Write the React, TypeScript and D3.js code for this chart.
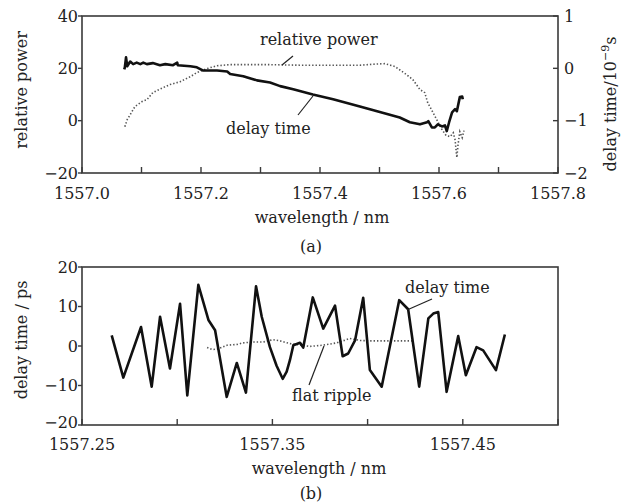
import * as d3 from "d3";
import React from "react";

// (a) delay time, 10^-9 s
const dtWaveA = [1557.071, 1557.072, 1557.074, 1557.076, 1557.081, 1557.086, 1557.092, 1557.098, 1557.103, 1557.109, 1557.119, 1557.131, 1557.140, 1557.153, 1557.160, 1557.161, 1557.182, 1557.193, 1557.203, 1557.227, 1557.244, 1557.249, 1557.271, 1557.294, 1557.316, 1557.333, 1557.355, 1557.388, 1557.422, 1557.467, 1557.496, 1557.534, 1557.551, 1557.568, 1557.580, 1557.582, 1557.588, 1557.593, 1557.598, 1557.605, 1557.610, 1557.613, 1557.617, 1557.622, 1557.627, 1557.630, 1557.635, 1557.639, 1557.640];
const dtValA = [-0.02, 0.02, 0.21, 0.04, 0.13, 0.08, 0.11, 0.08, 0.11, 0.08, 0.10, 0.06, 0.08, 0.06, 0.11, 0.06, 0.04, 0.02, -0.04, -0.04, -0.06, -0.11, -0.15, -0.23, -0.27, -0.34, -0.40, -0.50, -0.59, -0.73, -0.82, -0.94, -1.03, -1.07, -1.03, -1.01, -1.13, -1.13, -1.07, -1.11, -1.09, -1.20, -1.03, -0.84, -0.78, -0.82, -0.55, -0.54, -0.59];

// (a) relative power
const pwWave = [1557.072, 1557.076, 1557.081, 1557.089, 1557.101, 1557.109, 1557.119, 1557.136, 1557.148, 1557.165, 1557.182, 1557.193, 1557.210, 1557.227, 1557.249, 1557.316, 1557.366, 1557.467, 1557.492, 1557.509, 1557.526, 1557.543, 1557.556, 1557.568, 1557.576, 1557.581, 1557.590, 1557.598, 1557.605, 1557.612, 1557.619, 1557.624, 1557.627, 1557.629, 1557.630, 1557.632, 1557.635, 1557.639, 1557.642];
const pwVal = [-2.3, 0.4, 2.3, 5.4, 7.3, 8.0, 10.7, 12.6, 13.8, 14.9, 16.8, 18.4, 19.9, 21.0, 21.4, 21.4, 21.2, 21.2, 21.6, 21.8, 20.7, 18.0, 15.7, 11.9, 10.7, 6.9, 3.1, -0.4, -3.4, -5.7, -6.1, -4.6, -7.3, -11.9, -14.1, -9.2, -4.2, -6.5, -3.8];

// (b) delay time, ps
const dtWaveB = [1557.2656, 1557.2717, 1557.2810, 1557.2866, 1557.2910, 1557.2962, 1557.3015, 1557.3053, 1557.3111, 1557.3164, 1557.3199, 1557.3260, 1557.3313, 1557.3361, 1557.3414, 1557.3444, 1557.3487, 1557.3522, 1557.3554, 1557.3575, 1557.3592, 1557.3610, 1557.3645, 1557.3662, 1557.3712, 1557.3767, 1557.3829, 1557.3869, 1557.3898, 1557.3934, 1557.3977, 1557.4012, 1557.4074, 1557.4166, 1557.4213, 1557.4271, 1557.4319, 1557.4345, 1557.4371, 1557.4415, 1557.4476, 1557.4516, 1557.4572, 1557.4607, 1557.4674, 1557.4721];
const dtValB = [2.7, -8.0, 4.8, -10.3, 7.4, -5.7, 10.7, -12.5, 15.5, 6.6, 4.0, -12.9, -4.3, -11.8, 15.1, 7.4, -0.3, -5.0, -8.3, -6.5, -3.6, 0.2, 0.8, -0.4, 12.3, 4.4, 10.2, -2.6, -1.9, 1.4, 12.2, -6.1, -10.3, 11.6, 9.3, -10.3, 7.0, 8.2, 8.6, -11.6, 2.5, -7.4, -0.3, -1.1, -6.1, 2.9];

// (b) flat ripple
const rpWave = [1557.3157, 1557.3183, 1557.3209, 1557.3262, 1557.3314, 1557.3346, 1557.3398, 1557.3451, 1557.3503, 1557.3540, 1557.3592, 1557.3629, 1557.3697, 1557.3765, 1557.3839, 1557.3907, 1557.3960, 1557.4013, 1557.4118, 1557.4233];
const rpVal = [-0.4, -0.9, -0.8, 0.2, 0.4, 0.8, 1.0, 1.0, 1.6, 1.3, 0.6, 0.4, -0.1, 0.2, 0.8, 1.9, 1.4, 1.3, 1.3, 1.3];

const xTicksA = [1557.0, 1557.1, 1557.2, 1557.3, 1557.4, 1557.5, 1557.6, 1557.7, 1557.8];
const xLabelsA = [1557.0, 1557.2, 1557.4, 1557.6, 1557.8];
const yTicksA = [-20, 0, 20, 40];
const yTicksR = [-2, -1, 0, 1];
const xTicksB = [1557.25, 1557.30, 1557.35, 1557.40, 1557.45, 1557.50];
const xLabelsB = [1557.25, 1557.35, 1557.45];
const yTicksB = [-20, -10, 0, 10, 20];

const FONT = "'DejaVu Serif', serif";
const FS = 16;
const INK = "#222";
const FRAME = "#3a3a3a";

const fmtNum = (v: number) => (v < 0 ? "\u2212" + Math.abs(v) : String(v));

export default function App() {
  const left = 82, right = 558;
  const topA = 16, botA = 173;
  const topB = 267, botB = 425;

  const xA = d3.scaleLinear().domain([1557.0, 1557.8]).range([left, right]);
  const yA = d3.scaleLinear().domain([-20, 40]).range([botA, topA]);
  const yR = d3.scaleLinear().domain([-2, 1]).range([botA, topA]);
  const xB = d3.scaleLinear().domain([1557.25, 1557.5]).range([left, right]);
  const yB = d3.scaleLinear().domain([-20, 20]).range([botB, topB]);

  const dtLineA = d3.line<number>().x((d, i) => xA(dtWaveA[i])).y((d) => yR(d));
  const pwLine = d3.line<number>().x((d, i) => xA(pwWave[i])).y((d) => yA(d));
  const dtLineB = d3.line<number>().x((d, i) => xB(dtWaveB[i])).y((d) => yB(d));
  const rpLine = d3.line<number>().x((d, i) => xB(rpWave[i])).y((d) => yB(d));

  const textProps = { fill: INK, style: { fontFamily: FONT, fontSize: FS + "px" } };

  return (
    <svg width={627} height={504} style={{ position: "absolute", left: 0, top: 0, background: "#fff" }}>
      {/* panel (a) */}
      <g>
        <path d={pwLine(pwVal) || ""} fill="none" stroke="#555" strokeWidth={1.6} strokeDasharray="1.4,2" />
        <path d={dtLineA(dtValA) || ""} fill="none" stroke="#111" strokeWidth={2.6} strokeLinejoin="round" />
        <rect x={left} y={topA} width={right - left} height={botA - topA} fill="none" stroke={FRAME} strokeWidth={1.6} />
        {xTicksA.map((t) => (
          <line key={t} x1={xA(t)} x2={xA(t)} y1={botA} y2={botA - 6} stroke={FRAME} strokeWidth={1.4} />
        ))}
        {xLabelsA.map((t) => (
          <text key={t} x={xA(t)} y={199} textAnchor="middle" {...textProps}>{d3.format(".1f")(t)}</text>
        ))}
        {yTicksA.map((t) => (
          <g key={t}>
            <line x1={left - 4} x2={left} y1={yA(t)} y2={yA(t)} stroke={FRAME} strokeWidth={1.4} />
            <text x={78} y={yA(t)} dy="0.35em" textAnchor="end" {...textProps}>{fmtNum(t)}</text>
          </g>
        ))}
        {yTicksR.map((t) => (
          <g key={t}>
            <line x1={right - 5} x2={right} y1={yR(t)} y2={yR(t)} stroke={FRAME} strokeWidth={1.4} />
            <text x={564} y={yR(t)} dy="0.35em" textAnchor="start" {...textProps}>{fmtNum(t)}</text>
          </g>
        ))}
        <text x={322} y={223} textAnchor="middle" {...textProps}>wavelength / nm</text>
        <text x={311} y={252} textAnchor="middle" {...textProps}>(a)</text>
        <text transform="translate(21,90) rotate(-90)" dy="0.35em" textAnchor="middle" {...textProps}>relative power</text>
        <text transform="translate(610,104) rotate(-90)" dy="0.35em" textAnchor="middle" {...textProps}>
          delay time/10<tspan style={{ fontSize: "11px" }} dy="-7">{"\u22129"}</tspan><tspan dy="7">s</tspan>
        </text>
        <text x={260} y={45} {...textProps}>relative power</text>
        <line x1={282} y1={65} x2={293} y2={56} stroke={INK} strokeWidth={1.2} />
        <text x={226} y={134} {...textProps}>delay time</text>
        <line x1={298} y1={115} x2={313} y2={96} stroke={INK} strokeWidth={1.2} />
      </g>

      {/* panel (b) */}
      <g>
        <path d={rpLine(rpVal) || ""} fill="none" stroke="#555" strokeWidth={1.6} strokeDasharray="1.4,2" />
        <path d={dtLineB(dtValB) || ""} fill="none" stroke="#111" strokeWidth={2.6} strokeLinejoin="round" />
        <rect x={left} y={topB} width={right - left} height={botB - topB} fill="none" stroke={FRAME} strokeWidth={1.6} />
        {xTicksB.map((t) => (
          <line key={t} x1={xB(t)} x2={xB(t)} y1={botB} y2={botB - 6} stroke={FRAME} strokeWidth={1.4} />
        ))}
        {xLabelsB.map((t) => (
          <text key={t} x={xB(t)} y={450} textAnchor="middle" {...textProps}>{d3.format(".2f")(t)}</text>
        ))}
        {yTicksB.map((t) => (
          <g key={t}>
            <line x1={left - 4} x2={left} y1={yB(t)} y2={yB(t)} stroke={FRAME} strokeWidth={1.4} />
            <text x={78} y={t === -20 ? yB(t) - 3 : yB(t)} dy="0.35em" textAnchor="end" {...textProps}>{fmtNum(t)}</text>
          </g>
        ))}
        <text x={319} y={474} textAnchor="middle" {...textProps}>wavelength / nm</text>
        <text x={311} y={499} textAnchor="middle" {...textProps}>(b)</text>
        <text transform="translate(21,340) rotate(-90)" dy="0.35em" textAnchor="middle" {...textProps}>delay time / ps</text>
        <text x={405} y={293} {...textProps}>delay time</text>
        <line x1={407} y1={310} x2={432} y2={299} stroke={INK} strokeWidth={1.2} />
        <text x={292} y={401} {...textProps}>flat ripple</text>
        <line x1={309} y1={385} x2={324} y2={346} stroke={INK} strokeWidth={1.2} />
      </g>
    </svg>
  );
}
